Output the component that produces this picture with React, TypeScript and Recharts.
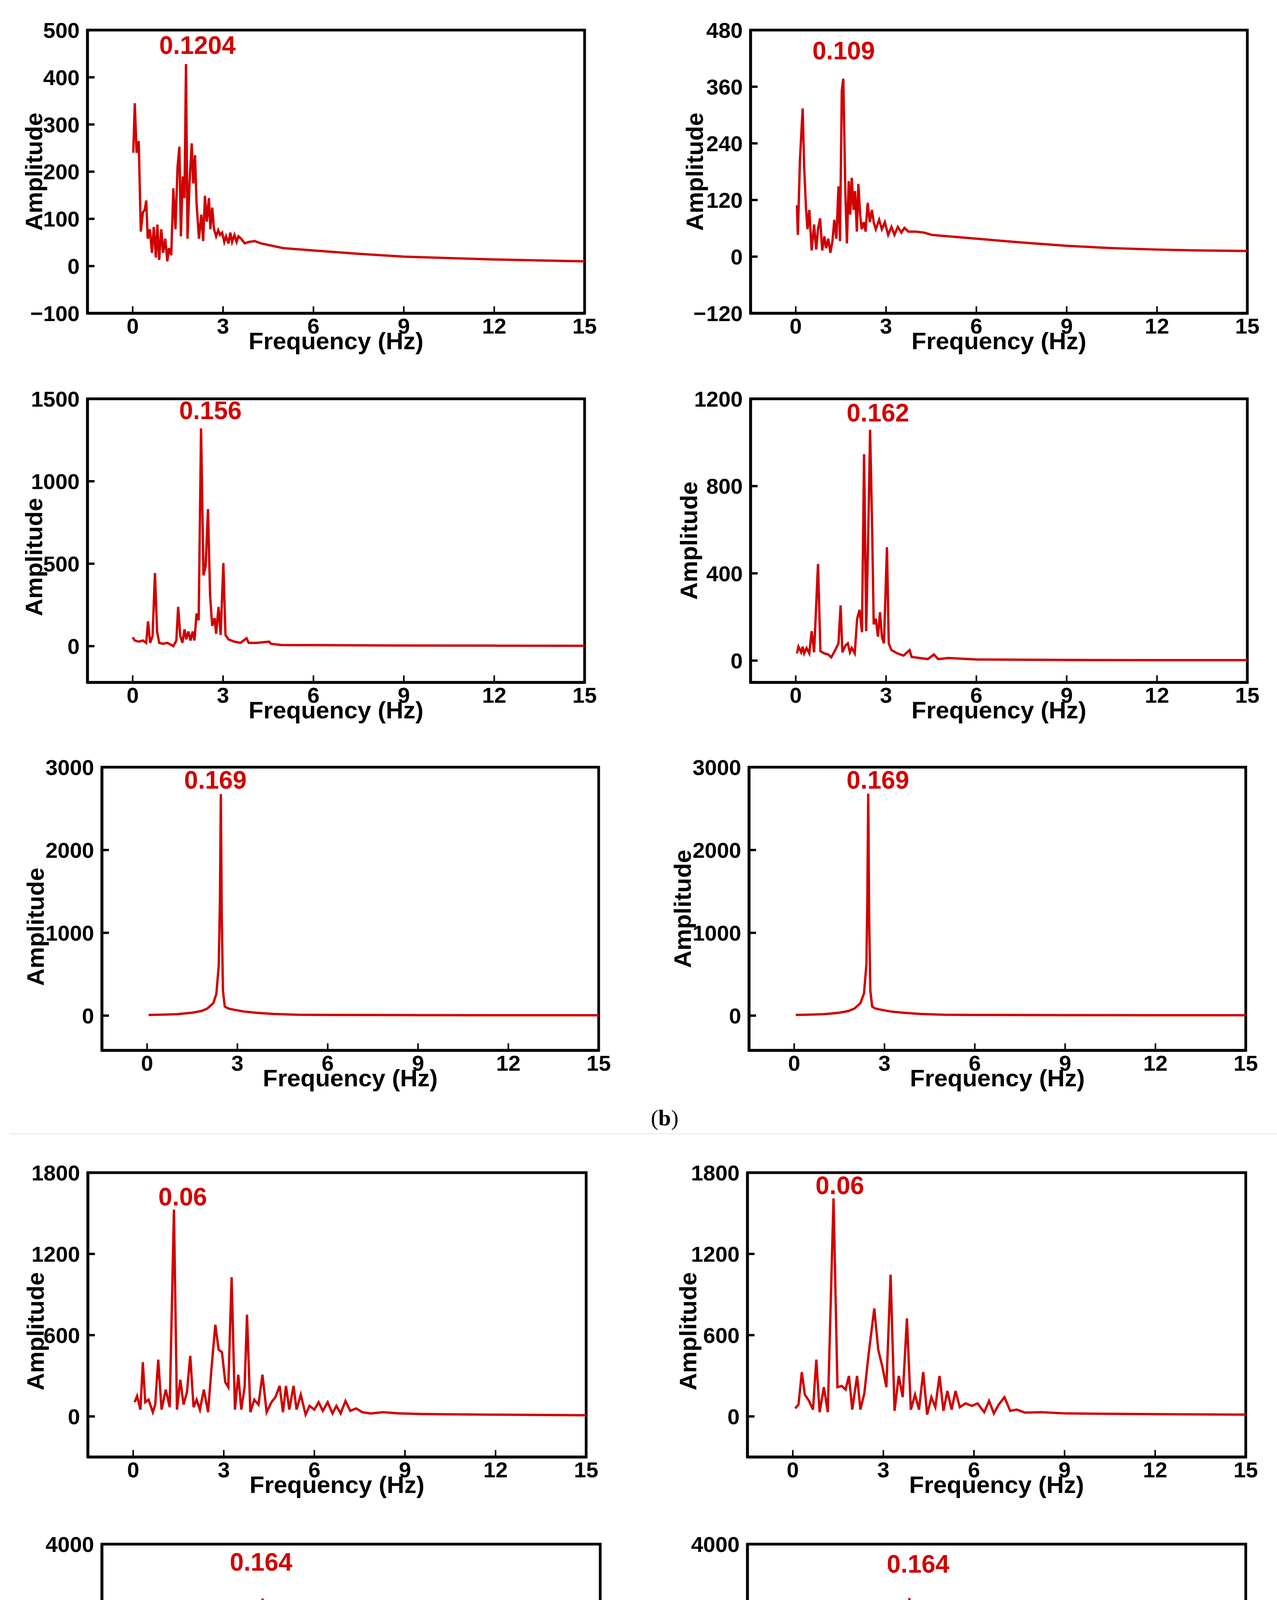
import React from "react";
import { LineChart, Line, XAxis, YAxis, ReferenceDot, ReferenceArea } from "recharts";

// frequency axis shared by every panel
const xDomain = [-1.5, 15];
const xTicks = [0, 3, 6, 9, 12, 15];

// spectra: [frequency (Hz), amplitude]
const specB1 = [
  [0.02, 240], [0.07, 345], [0.13, 240], [0.2, 265], [0.27, 73], [0.34, 114], [0.4, 119], [0.45, 139],
  [0.5, 58], [0.57, 78], [0.64, 28], [0.7, 83], [0.77, 18], [0.82, 88], [0.88, 13], [0.95, 78],
  [1.01, 28], [1.08, 58], [1.15, 10], [1.2, 38], [1.28, 23], [1.35, 165], [1.42, 78], [1.49, 210],
  [1.55, 253], [1.6, 63], [1.66, 190], [1.72, 144], [1.77, 428], [1.82, 58], [1.89, 180], [1.96, 260],
  [2.01, 175], [2.07, 235], [2.12, 134], [2.2, 58], [2.28, 109], [2.34, 53], [2.4, 149], [2.46, 94],
  [2.53, 144], [2.58, 78], [2.64, 124], [2.7, 78], [2.77, 63], [2.84, 76], [2.9, 66], [2.97, 71],
  [3.04, 51], [3.1, 63], [3.18, 48], [3.24, 71], [3.3, 51], [3.38, 66], [3.45, 51], [3.51, 63],
  [3.6, 58], [3.72, 48], [3.85, 51], [4.05, 53], [4.26, 48], [5, 38], [6, 33], [7.5, 26],
  [9, 20], [10.5, 17], [12, 14], [13.5, 12], [15, 10],
];
const specB2 = [
  [0.04, 109], [0.07, 46], [0.14, 205], [0.23, 314], [0.28, 190], [0.34, 104], [0.39, 58], [0.45, 99],
  [0.53, 13], [0.61, 68], [0.68, 15], [0.74, 58], [0.81, 81], [0.88, 13], [0.95, 43], [1.01, 18],
  [1.08, 38], [1.15, 8], [1.22, 33], [1.28, 78], [1.35, 38], [1.42, 149], [1.47, 33], [1.53, 352],
  [1.58, 377], [1.65, 129], [1.7, 28], [1.76, 160], [1.81, 89], [1.86, 167], [1.92, 99], [1.97, 139],
  [2.03, 53], [2.08, 154], [2.14, 89], [2.19, 58], [2.26, 73], [2.32, 53], [2.39, 114], [2.46, 73],
  [2.53, 99], [2.59, 73], [2.66, 58], [2.77, 78], [2.86, 58], [2.96, 73], [3.07, 46], [3.18, 63],
  [3.28, 46], [3.39, 63], [3.51, 51], [3.61, 61], [3.74, 53], [3.99, 53], [4.26, 51], [4.53, 46],
  [6, 38], [7.5, 30], [9, 23], [10.5, 18], [12, 15], [13.5, 13], [15, 12],
];
const specB3 = [
  [0, 54], [0.07, 34], [0.2, 27], [0.34, 34], [0.45, 20], [0.51, 150], [0.58, 20], [0.66, 61],
  [0.74, 443], [0.81, 89], [0.88, 20], [1.01, 14], [1.15, 20], [1.35, 0], [1.45, 34], [1.51, 238],
  [1.58, 61], [1.65, 20], [1.72, 102], [1.78, 41], [1.85, 89], [1.92, 34], [1.99, 89], [2.05, 34],
  [2.12, 198], [2.19, 157], [2.27, 1321], [2.35, 429], [2.42, 484], [2.5, 831], [2.57, 306], [2.64, 123],
  [2.72, 170], [2.77, 75], [2.85, 238], [2.92, 68], [3.01, 504], [3.08, 68], [3.18, 41], [3.38, 27],
  [3.58, 20], [3.78, 48], [3.85, 20], [4.12, 20], [4.53, 27], [4.59, 14], [4.93, 7], [6, 6],
  [9, 4], [12, 3], [15, 2],
];
const specB4 = [
  [0.04, 33], [0.09, 64], [0.18, 38], [0.23, 64], [0.28, 33], [0.36, 58], [0.45, 33], [0.53, 135],
  [0.61, 38], [0.74, 443], [0.82, 43], [0.95, 33], [1.08, 28], [1.18, 15], [1.31, 48], [1.42, 79],
  [1.49, 253], [1.55, 38], [1.65, 69], [1.73, 79], [1.8, 38], [1.86, 58], [1.96, 33], [2.04, 192],
  [2.12, 233], [2.2, 130], [2.27, 946], [2.34, 135], [2.41, 592], [2.47, 1058], [2.54, 592], [2.59, 166],
  [2.66, 192], [2.73, 110], [2.8, 222], [2.86, 110], [2.93, 79], [3.03, 520], [3.09, 79], [3.18, 48],
  [3.38, 33], [3.58, 23], [3.78, 48], [3.85, 17], [4.12, 12], [4.39, 7], [4.59, 28], [4.73, 7],
  [5.07, 12], [6, 5], [9, 3], [12, 2], [15, 2],
];
const specB5 = [
  [0.05, 8], [0.5, 12], [1, 18], [1.5, 35], [1.8, 55], [2.0, 85], [2.2, 150], [2.3, 260],
  [2.38, 600], [2.42, 1400], [2.45, 2675], [2.48, 1200], [2.52, 300], [2.58, 110], [2.7, 85], [2.9, 70],
  [3.2, 50], [3.6, 35], [4.2, 20], [5, 10], [6, 8], [9, 6], [12, 5], [15, 5],
];
const specB6 = [
  [0.05, 8], [0.5, 12], [1, 18], [1.5, 35], [1.8, 55], [2.0, 85], [2.2, 150], [2.32, 270],
  [2.4, 620], [2.43, 1400], [2.46, 2680], [2.49, 1200], [2.53, 300], [2.59, 110], [2.7, 85], [2.9, 70],
  [3.2, 50], [3.6, 35], [4.2, 20], [5, 10], [6, 8], [9, 6], [12, 5], [15, 5],
];
const specC1 = [
  [0.05, 105], [0.13, 151], [0.24, 50], [0.32, 400], [0.4, 105], [0.51, 124], [0.65, 31], [0.73, 87],
  [0.83, 419], [0.94, 50], [1.08, 198], [1.21, 68], [1.35, 1527], [1.45, 50], [1.56, 271], [1.67, 87],
  [1.78, 179], [1.89, 447], [2.0, 68], [2.1, 124], [2.21, 50], [2.34, 198], [2.48, 31], [2.59, 345],
  [2.72, 677], [2.83, 493], [2.94, 474], [3.05, 253], [3.15, 216], [3.26, 1028], [3.37, 50], [3.48, 308],
  [3.58, 50], [3.69, 216], [3.77, 751], [3.88, 31], [4.01, 124], [4.15, 87], [4.28, 308], [4.42, 31],
  [4.58, 105], [4.71, 142], [4.85, 225], [4.96, 31], [5.06, 225], [5.17, 50], [5.31, 225], [5.41, 50],
  [5.55, 161], [5.71, 13], [5.84, 78], [6.0, 50], [6.14, 105], [6.28, 41], [6.44, 105], [6.6, 22],
  [6.73, 78], [6.87, 22], [7.03, 114], [7.19, 41], [7.38, 59], [7.59, 31], [7.86, 22], [8.27, 31],
  [8.8, 22], [9.6, 17], [11.8, 13], [15, 9],
];
const specC2 = [
  [0.08, 59], [0.19, 87], [0.3, 327], [0.4, 161], [0.54, 114], [0.67, 50], [0.78, 419], [0.89, 31],
  [1.03, 216], [1.16, 31], [1.35, 1610], [1.48, 216], [1.62, 225], [1.75, 198], [1.86, 299], [1.97, 50],
  [2.13, 299], [2.24, 50], [2.37, 170], [2.51, 456], [2.7, 797], [2.83, 493], [2.97, 364], [3.1, 216],
  [3.24, 1047], [3.37, 41], [3.51, 299], [3.64, 142], [3.78, 724], [3.91, 50], [4.05, 161], [4.18, 50],
  [4.32, 327], [4.45, 13], [4.59, 142], [4.72, 68], [4.86, 299], [4.99, 41], [5.12, 188], [5.26, 50],
  [5.39, 188], [5.53, 68], [5.72, 96], [5.93, 78], [6.12, 96], [6.34, 31], [6.5, 114], [6.66, 22],
  [6.82, 87], [7.01, 142], [7.2, 41], [7.42, 50], [7.69, 28], [8.23, 31], [9.04, 22], [11.5, 17],
  [15, 13],
];
const specC3 = [
  [0.05, 10], [0.5, 15], [1.0, -5], [1.5, 10], [2.0, 25], [2.5, 45], [3.0, 75], [3.3, 120],
  [3.55, 230], [3.68, 470], [3.76, 1100], [3.82, 3140], [3.88, 1100], [3.96, 400], [4.1, 160], [4.3, 80],
  [4.6, 45], [5.0, 30], [5.5, 25], [6.0, 30], [6.5, 20], [7.0, 15], [7.6, 10], [7.7, 95],
  [7.76, 0], [8.5, 10], [10, 8], [12, 6], [15, 5],
];
const specC4 = [
  [0.05, 10], [0.5, 15], [1.0, -5], [1.5, 10], [2.0, 25], [2.5, 45], [3.0, 75], [3.35, 120],
  [3.6, 230], [3.72, 470], [3.8, 1100], [3.86, 3150], [3.92, 1100], [4.0, 400], [4.14, 160], [4.34, 80],
  [4.6, 45], [5.0, 30], [5.5, 25], [6.0, 30], [6.5, 20], [7.0, 15], [7.62, 10], [7.7, 95],
  [7.76, 0], [8.5, 10], [10, 8], [12, 6], [15, 5],
];
const specC5 = [
  [0.05, 10], [0.5, 15], [1.0, 10], [1.5, 15], [2.0, 25], [2.5, 45], [3.0, 75], [3.35, 120],
  [3.6, 230], [3.72, 470], [3.8, 1100], [3.86, 3160], [3.92, 1100], [4.0, 400], [4.14, 160], [4.34, 80],
  [4.6, 45], [5.0, 30], [5.5, 25], [6.0, 25], [6.5, 20], [7.0, 15], [7.62, 10], [7.7, 85],
  [7.76, 0], [8.5, 10], [10, 8], [12, 6], [15, 5],
];
const specC6 = [
  [0.05, 10], [0.5, 15], [1.0, 10], [1.5, 15], [2.0, 25], [2.5, 45], [3.0, 75], [3.37, 120],
  [3.62, 230], [3.74, 470], [3.82, 1100], [3.88, 3160], [3.94, 1100], [4.02, 400], [4.16, 160], [4.36, 80],
  [4.6, 45], [5.0, 30], [5.5, 25], [6.0, 25], [6.5, 20], [7.0, 15], [7.62, 10], [7.7, 85],
  [7.76, 0], [8.5, 10], [10, 8], [12, 6], [15, 5],
];

// y ranges and ticks per panel
const yDomains = [
  [-100, 500], [-120, 480], [-220, 1500], [-100, 1200], [-420, 3000], [-420, 3000],
  [-300, 1800], [-300, 1800], [-500, 4000], [-500, 4000], [-500, 4000], [-500, 4000],
];
const yTicks = [
  [-100, 0, 100, 200, 300, 400, 500], [-120, 0, 120, 240, 360, 480],
  [0, 500, 1000, 1500], [0, 400, 800, 1200],
  [0, 1000, 2000, 3000], [0, 1000, 2000, 3000],
  [0, 600, 1200, 1800], [0, 600, 1200, 1800],
  [0, 1000, 2000, 3000, 4000], [0, 1000, 2000, 3000, 4000],
  [0, 1000, 2000, 3000, 4000], [0, 1000, 2000, 3000, 4000],
];
// peak annotations: [text, frequency, amplitude]
const notes = [
  ["0.1204", 2.15, 468], ["0.109", 1.59, 437], ["0.156", 2.58, 1431], ["0.162", 2.73, 1137],
  ["0.169", 2.27, 2849], ["0.169", 2.78, 2849], ["0.06", 1.64, 1624], ["0.06", 1.56, 1708],
  ["0.164", 3.77, 3722], ["0.164", 4.15, 3691], ["0.175", 4.24, 3698], ["0.175", 4.21, 3738],
];
const spectra = [specB1, specB2, specB3, specB4, specB5, specB6, specC1, specC2, specC3, specC4, specC5, specC6];

// page layout: plot box [left, right, top, bottom] and Amplitude label offset [dx, dy]
const frames = [
  [224, 1497, 77, 802], [1922, 3194, 77, 802],
  [224, 1497, 1021, 1747], [1922, 3194, 1021, 1747],
  [261, 1533, 1964, 2689], [1918, 3190, 1964, 2689],
  [225, 1501, 3002, 3730], [1914, 3190, 3002, 3730],
  [261, 1537, 3953, 4682], [1914, 3190, 3953, 4682],
  [281, 1558, 4901, 5630], [1914, 3190, 4901, 5630],
];
const ampLabel = [
  [138, 0], [144, 0], [138, 42], [159, 0], [171, 46], [171, 0],
  [135, 42], [153, 42], [175, 0], [173, 0], [171, 0], [173, 0],
];

const FONT = '"Liberation Sans", Arial, Helvetica, sans-serif';
const RED = "#d00000";
const BORDER = 7;
const AXIS_W = 240;
const AXIS_H = 170;
const TOP_PAD = 60;
const RIGHT_PAD = 40;

const tickStyle = { fill: "#000", fontSize: 56, fontWeight: "bold", fontFamily: FONT };
const fmt = (v: number) => (v < 0 ? "\u2212" + Math.abs(v) : String(v));

function Panel({ i }: { i: number }) {
  const [left, right, top, bottom] = frames[i];
  const plotW = right - left;
  const plotH = bottom - top;
  const data = spectra[i].map(([f, a]) => ({ f, a }));
  const [txt, nx, ny] = notes[i];
  const [dx, dy] = ampLabel[i];
  const [yMin, yMax] = yDomains[i];

  return (
    <div style={{ position: "absolute", left: left - AXIS_W, top: top - TOP_PAD }}>
      <LineChart
        width={plotW + AXIS_W + RIGHT_PAD}
        height={plotH + TOP_PAD + AXIS_H}
        data={data}
        margin={{ top: TOP_PAD, right: RIGHT_PAD, bottom: 0, left: 0 }}
      >
        <XAxis
          dataKey="f"
          type="number"
          domain={xDomain}
          ticks={xTicks}
          interval={0}
          allowDataOverflow
          height={AXIS_H}
          axisLine={{ stroke: "#000", strokeWidth: BORDER }}
          tickLine={{ stroke: "#000", strokeWidth: 4 }}
          tickSize={-18}
          tickMargin={30}
          tick={tickStyle}
          label={(props: any) => {
            const vb = props.viewBox || {};
            return (
              <text
                x={vb.x + vb.width / 2}
                y={vb.y + 92}
                textAnchor="middle"
                fontSize={62}
                fontWeight="bold"
                fontFamily={FONT}
                fill="#000"
              >
                Frequency (Hz)
              </text>
            );
          }}
        />
        <YAxis
          type="number"
          domain={yDomains[i]}
          ticks={yTicks[i]}
          interval={0}
          allowDataOverflow
          width={AXIS_W}
          axisLine={{ stroke: "#000", strokeWidth: BORDER }}
          tickLine={{ stroke: "#000", strokeWidth: 6 }}
          tickSize={-18}
          tickMargin={38}
          tick={tickStyle}
          tickFormatter={fmt}
          label={(props: any) => {
            const vb = props.viewBox || {};
            const x = vb.x + vb.width - dx;
            const y = vb.y + vb.height / 2 + dy;
            return (
              <text
                x={x}
                y={y}
                transform={`rotate(-90 ${x} ${y})`}
                textAnchor="middle"
                dominantBaseline="central"
                fontSize={62}
                fontWeight="bold"
                fontFamily={FONT}
                fill="#000"
              >
                Amplitude
              </text>
            );
          }}
        />
        <ReferenceArea
          x1={xDomain[0]}
          x2={xDomain[1]}
          y1={yMin}
          y2={yMax}
          fill="none"
          fillOpacity={0}
          stroke="#000"
          strokeWidth={BORDER}
          ifOverflow="visible"
        />
        <Line
          type="linear"
          dataKey="a"
          stroke={RED}
          strokeWidth={6}
          dot={false}
          isAnimationActive={false}
        />
        <ReferenceDot
          x={nx as number}
          y={ny as number}
          r={0}
          fill="none"
          stroke="none"
          label={{
            value: txt as string,
            position: "center",
            fill: RED,
            fontSize: 64,
            fontWeight: "bold",
            fontFamily: FONT,
          }}
        />
      </LineChart>
    </div>
  );
}

const caption = (letter: string, y: number) => (
  <div
    style={{
      position: "absolute",
      left: 1552,
      width: 300,
      top: y - 40,
      height: 80,
      lineHeight: "80px",
      textAlign: "center",
      fontSize: 58,
      fontFamily: '"Liberation Serif", "DejaVu Serif", serif',
      color: "#000",
    }}
  >
    (<b>{letter}</b>)
  </div>
);

export default function App() {
  return (
    <div style={{ position: "absolute", left: 0, top: 0, width: 3270, height: 5873, background: "#fff" }}>
      {frames.map((_, i) => (
        <Panel key={i} i={i} />
      ))}
      {caption("b", 2862)}
      <div style={{ position: "absolute", left: 25, top: 2901, width: 3245, height: 3, background: "#ececec" }} />
      <div style={{ position: "absolute", left: 25, top: 5734, width: 3245, height: 3, background: "#ececec" }} />
      {caption("c", 5803)}
    </div>
  );
}
